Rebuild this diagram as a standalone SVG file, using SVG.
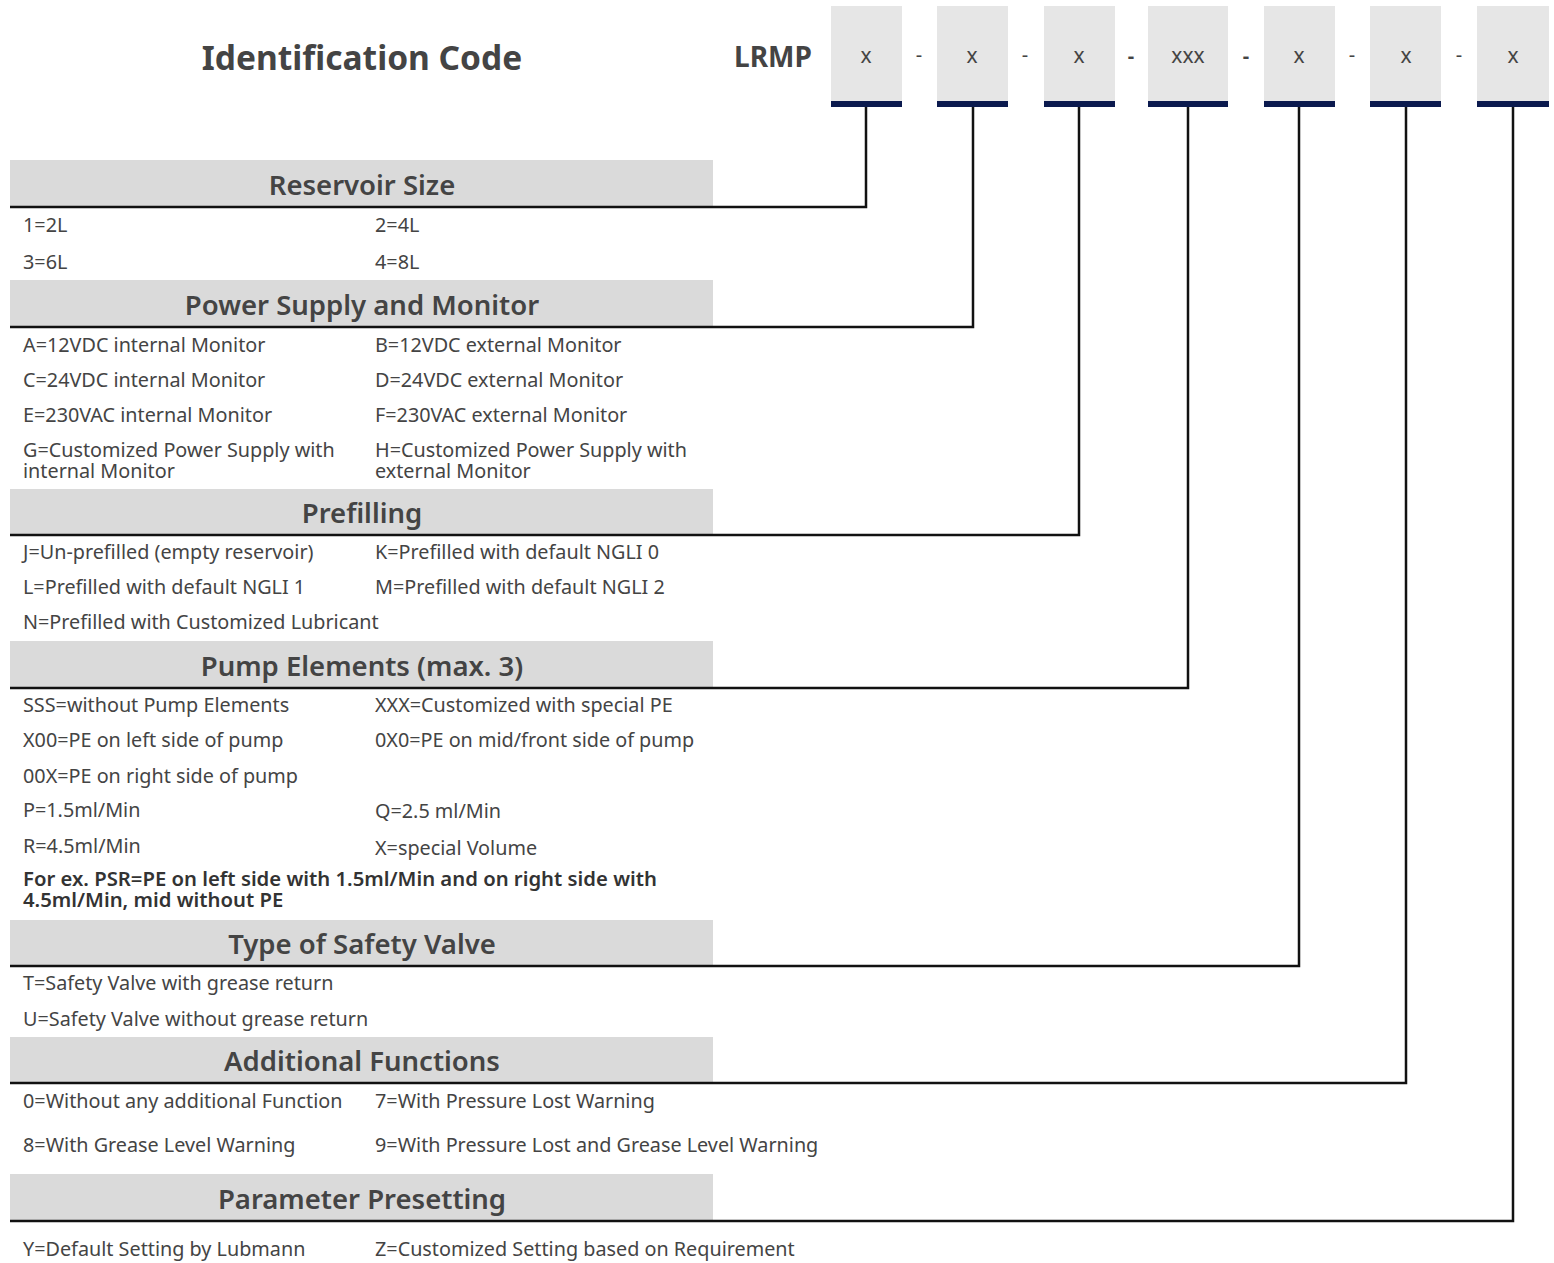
<svg xmlns="http://www.w3.org/2000/svg" width="1554" height="1263" viewBox="0 0 1554 1263">
<style>
.title{font-family:"Noto Sans","Open Sans",sans-serif;font-weight:700;fill:#444;}
.code{font-family:"Noto Sans",sans-serif;font-size:21px;fill:#444;text-anchor:middle;}
.dash{font-family:"Noto Sans",sans-serif;font-size:20px;fill:#444;text-anchor:middle;}
.hdr{font-family:"Noto Sans",sans-serif;font-size:27.5px;font-weight:600;fill:#444;text-anchor:middle;}
.t{font-family:"Noto Sans",sans-serif;font-size:19.8px;fill:#444;}
.b{font-family:"Noto Sans",sans-serif;font-size:20.3px;font-weight:600;fill:#333;}
.band{fill:#dadada;}
.box{fill:#e6e6e6;}
.bar{fill:#0b1a4e;}
.con{fill:none;stroke:#111;stroke-width:2.5;}
</style>
<text class="title" x="362" y="70" font-size="33.5" text-anchor="middle">Identification Code</text>
<text class="title" x="773" y="67" font-size="28" text-anchor="middle">LRMP</text>
<g id="code-boxes">
<g id="box1"><rect class="box" x="831" y="6" width="71" height="96"/><rect class="bar" x="831" y="101" width="71" height="6"/><text class="code" x="866" y="63">x</text></g>
<g id="box2"><rect class="box" x="937" y="6" width="71" height="96"/><rect class="bar" x="937" y="101" width="71" height="6"/><text class="code" x="972" y="63">x</text></g>
<g id="box3"><rect class="box" x="1044" y="6" width="71" height="96"/><rect class="bar" x="1044" y="101" width="71" height="6"/><text class="code" x="1079" y="63">x</text></g>
<g id="box4"><rect class="box" x="1148" y="6" width="80" height="96"/><rect class="bar" x="1148" y="101" width="80" height="6"/><text class="code" x="1188" y="63">xxx</text></g>
<g id="box5"><rect class="box" x="1264" y="6" width="71" height="96"/><rect class="bar" x="1264" y="101" width="71" height="6"/><text class="code" x="1299" y="63">x</text></g>
<g id="box6"><rect class="box" x="1370" y="6" width="71" height="96"/><rect class="bar" x="1370" y="101" width="71" height="6"/><text class="code" x="1406" y="63">x</text></g>
<g id="box7"><rect class="box" x="1477" y="6" width="72" height="96"/><rect class="bar" x="1477" y="101" width="72" height="6"/><text class="code" x="1513" y="63">x</text></g>
<text class="dash" x="919" y="62">-</text>
<text class="dash" x="1025" y="62">-</text>
<text class="dash" x="1131" y="63" font-weight="700">-</text>
<text class="dash" x="1246" y="63" font-weight="700">-</text>
<text class="dash" x="1352" y="62">-</text>
<text class="dash" x="1459" y="62">-</text>
</g>
<g id="reservoir">
<rect class="band" x="10" y="160" width="703" height="47"/>
<text class="hdr" x="362" y="195">Reservoir Size</text>
<text class="t" x="23" y="232">1=2L</text><text class="t" x="375" y="232">2=4L</text>
<text class="t" x="23" y="269">3=6L</text><text class="t" x="375" y="269">4=8L</text>
</g>
<g id="power">
<rect class="band" x="10" y="280" width="703" height="47"/>
<text class="hdr" x="362" y="315">Power Supply and Monitor</text>
<text class="t" x="23" y="352">A=12VDC internal Monitor</text><text class="t" x="375" y="352">B=12VDC external Monitor</text>
<text class="t" x="23" y="387">C=24VDC internal Monitor</text><text class="t" x="375" y="387">D=24VDC external Monitor</text>
<text class="t" x="23" y="422">E=230VAC internal Monitor</text><text class="t" x="375" y="422">F=230VAC external Monitor</text>
<text class="t" x="23" y="457">G=Customized Power Supply with<tspan x="23" dy="21">internal Monitor</tspan></text>
<text class="t" x="375" y="457">H=Customized Power Supply with<tspan x="375" dy="21">external Monitor</tspan></text>
</g>
<g id="prefilling">
<rect class="band" x="10" y="489" width="703" height="46"/>
<text class="hdr" x="362" y="523">Prefilling</text>
<text class="t" x="23" y="559">J=Un-prefilled (empty reservoir)</text><text class="t" x="375" y="559">K=Prefilled with default NGLI 0</text>
<text class="t" x="23" y="594">L=Prefilled with default NGLI 1</text><text class="t" x="375" y="594">M=Prefilled with default NGLI 2</text>
<text class="t" x="23" y="629">N=Prefilled with Customized Lubricant</text>
</g>
<g id="pump">
<rect class="band" x="10" y="641" width="703" height="47"/>
<text class="hdr" x="362" y="676">Pump Elements (max. 3)</text>
<text class="t" x="23" y="712">SSS=without Pump Elements</text><text class="t" x="375" y="712">XXX=Customized with special PE</text>
<text class="t" x="23" y="747">X00=PE on left side of pump</text><text class="t" x="375" y="747">0X0=PE on mid/front side of pump</text>
<text class="t" x="23" y="783">00X=PE on right side of pump</text>
<text class="t" x="23" y="817">P=1.5ml/Min</text><text class="t" x="375" y="818">Q=2.5 ml/Min</text>
<text class="t" x="23" y="853">R=4.5ml/Min</text><text class="t" x="375" y="855">X=special Volume</text>
<text class="b" x="23" y="886">For ex. PSR=PE on left side with 1.5ml/Min and on right side with<tspan x="23" dy="21">4.5ml/Min, mid without PE</tspan></text>
</g>
<g id="safety">
<rect class="band" x="10" y="920" width="703" height="46"/>
<text class="hdr" x="362" y="954">Type of Safety Valve</text>
<text class="t" x="23" y="990">T=Safety Valve with grease return</text>
<text class="t" x="23" y="1026">U=Safety Valve without grease return</text>
</g>
<g id="additional">
<rect class="band" x="10" y="1037" width="703" height="46"/>
<text class="hdr" x="362" y="1071">Additional Functions</text>
<text class="t" x="23" y="1108">0=Without any additional Function</text><text class="t" x="375" y="1108">7=With Pressure Lost Warning</text>
<text class="t" x="23" y="1152">8=With Grease Level Warning</text><text class="t" x="375" y="1152">9=With Pressure Lost and Grease Level Warning</text>
</g>
<g id="parameter">
<rect class="band" x="10" y="1174" width="703" height="47"/>
<text class="hdr" x="362" y="1209">Parameter Presetting</text>
<text class="t" x="23" y="1256">Y=Default Setting by Lubmann</text><text class="t" x="375" y="1256">Z=Customized Setting based on Requirement</text>
</g>
<g id="connectors">
<polyline class="con" points="866,107 866,207 10,207"/>
<polyline class="con" points="973,107 973,327 10,327"/>
<polyline class="con" points="1079,107 1079,535 10,535"/>
<polyline class="con" points="1188,107 1188,688 10,688"/>
<polyline class="con" points="1299,107 1299,966 10,966"/>
<polyline class="con" points="1406,107 1406,1083 10,1083"/>
<polyline class="con" points="1513,107 1513,1221 10,1221"/>
</g>
</svg>
